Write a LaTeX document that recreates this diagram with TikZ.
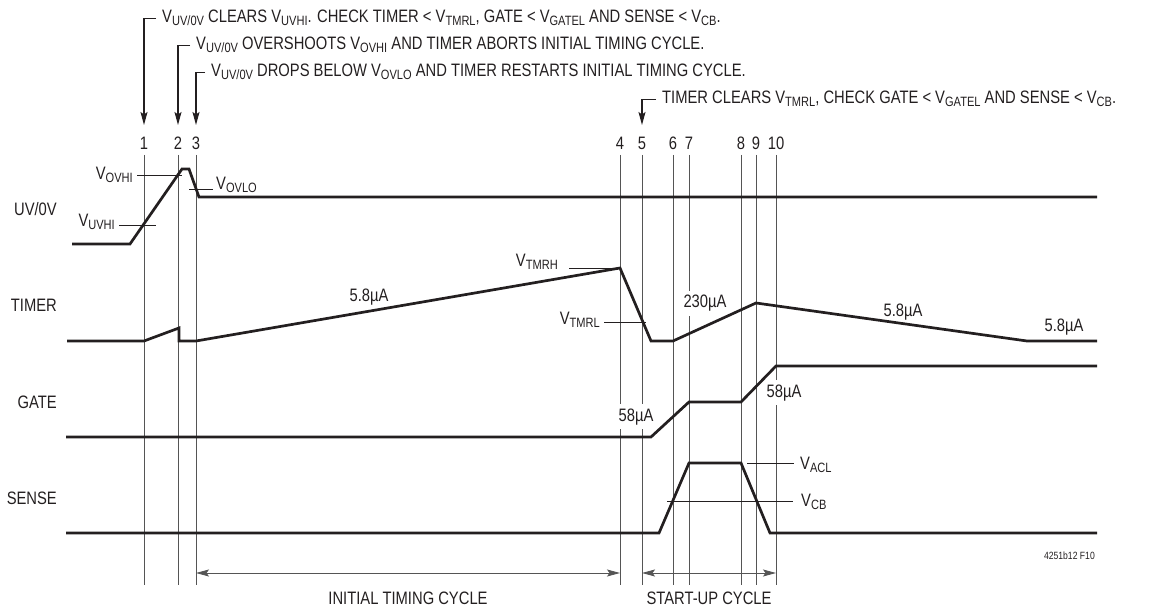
\documentclass[tikz,border=0pt]{standalone}
\usepackage{fontspec}
\setmainfont{Liberation Sans}[FakeStretch=0.82]
\usepackage{tikz}
\usetikzlibrary{calc,arrows.meta}
\definecolor{ink}{HTML}{231F20}
\definecolor{rule}{HTML}{555555}
\newcommand{\vsub}[1]{V\raisebox{-3pt}{\fontsize{13.5}{14}\selectfont #1}}

\begin{document}
\begin{tikzpicture}[x=1pt,y=-1pt,>={Stealth[length=13pt,width=7pt,inset=2.5pt]},
  wave/.style={ink,line width=2.7pt,line join=miter},
  guide/.style={rule,line width=0.8pt},
  leader/.style={ink,line width=0.8pt},
  pointer/.style={ink,line width=1.1pt,->},
  span/.style={rule,line width=0.8pt,<->},
  lbl/.style={ink,inner sep=0pt,font=\fontsize{18}{20}\selectfont},
  gaplbl/.style={lbl,fill=white,inner xsep=2pt,inner ysep=4pt}]
  \useasboundingbox (0,0) rectangle (1157,612);
  \foreach \idx/\x in {1/144,2/178,3/196,4/620,5/642,6/673,7/689,8/741,9/756,10/776} {
    \coordinate (T\idx) at (\x,155);
    \coordinate (B\idx) at (\x,585);
    \draw[guide] (T\idx) -- (B\idx);
    \node[lbl,anchor=base] (n\idx) at (\x,149.5) {\idx};
  }
  \foreach \idx in {1,2,3,5} \coordinate (P\idx) at ($(T\idx)+(0,-30)$);
  \node[lbl,anchor=base west] (note1) at (162,23) {\vsub{UV/0V} CLEARS \vsub{UVHI}. CHECK TIMER < \vsub{TMRL}, GATE < \vsub{GATEL} AND SENSE < \vsub{CB}.};
  \node[lbl,anchor=base west] (note2) at (196,50) {\vsub{UV/0V} OVERSHOOTS \vsub{OVHI} AND TIMER ABORTS INITIAL TIMING CYCLE.};
  \node[lbl,anchor=base west] (note3) at (211,77) {\vsub{UV/0V} DROPS BELOW \vsub{OVLO} AND TIMER RESTARTS INITIAL TIMING CYCLE.};
  \node[lbl,anchor=base west] (note5) at (662,104) {TIMER CLEARS \vsub{TMRL}, CHECK GATE < \vsub{GATEL} AND SENSE < \vsub{CB}.};
  \foreach \idx in {1,2,3,5} \draw[pointer] ($(note\idx.west)+(-6,0)$) -| (P\idx);
  \node[lbl,anchor=base east] (uvov) at (57,216) {UV/0V};
  \node[lbl,anchor=base east] (timer) at (57,312) {TIMER};
  \node[lbl,anchor=base east] (gate) at (57,408) {GATE};
  \node[lbl,anchor=base east] (sense) at (57,504) {SENSE};
  \draw[wave] (72,244) -- (130,244) -- (182,169) -- (189,169) -- (199,197) -- (1097,197);
  \node[lbl,anchor=base east] (ovhi) at (133,180) {\vsub{OVHI}};
  \draw[leader] (137,175) -- (182,175);
  \node[lbl,anchor=base east] (uvhi) at (115,227) {\vsub{UVHI}};
  \draw[leader] (119,225) -- (156,225);
  \node[lbl,anchor=base west] (ovlo) at (216,190) {\vsub{OVLO}};
  \draw[leader] (189,189) -- (213,189);
  \node[gaplbl,anchor=base] (ramp2) at (705,308) {230µA};
  \draw[wave] (67,341) -- (144,341) -- (179,328) -- (179,341) -- (196,341) -- (620,268)
    -- (651,341) -- (673,341) -- (756,303) -- (1027,341) -- (1097,341);
  \node[lbl,anchor=base east] (tmrh) at (558,267) {\vsub{TMRH}};
  \draw[leader] (569,268) -- (620,268);
  \node[lbl,anchor=base east] (tmrl) at (600,325) {\vsub{TMRL}};
  \draw[leader] (604,322) -- (646,322);
  \node[lbl,anchor=base] (ramp1) at (369,302) {5.8µA};
  \node[lbl,anchor=base] (ramp3) at (903,317) {5.8µA};
  \node[lbl,anchor=base] (ramp4) at (1064,332) {5.8µA};
  \node[gaplbl,anchor=base] (pull1) at (636,421) {58µA};
  \node[gaplbl,anchor=base] (pull2) at (784,397) {58µA};
  \draw[wave] (66,437) -- (651,437) -- (689,402) -- (741,402) -- (776,366) -- (1097,366);
  \draw[wave] (66,533) -- (659,533) -- (689,463) -- (741,463) -- (770,533) -- (1097,533);
  \node[lbl,anchor=base west] (acl) at (800,469) {\vsub{ACL}};
  \draw[leader] (747,463) -- (794,463);
  \node[lbl,anchor=base west] (cb) at (801,506) {\vsub{CB}};
  \draw[leader] (667,501) -- (793,501);
  \node[lbl,font=\fontsize{10.5}{12}\selectfont,anchor=base east] (fig) at (1095,559) {4251b12 F10};
  \draw[span] ($(B3)+(0,-12)$) -- ($(B4)+(0,-12)$);
  \draw[span] ($(B5)+(0,-12)$) -- ($(B10)+(0,-12)$);
  \node[lbl,anchor=base] (initc) at (408,604) {INITIAL TIMING CYCLE};
  \node[lbl,anchor=base] (startc) at (709,604) {START-UP CYCLE};
\end{tikzpicture}
\end{document}
